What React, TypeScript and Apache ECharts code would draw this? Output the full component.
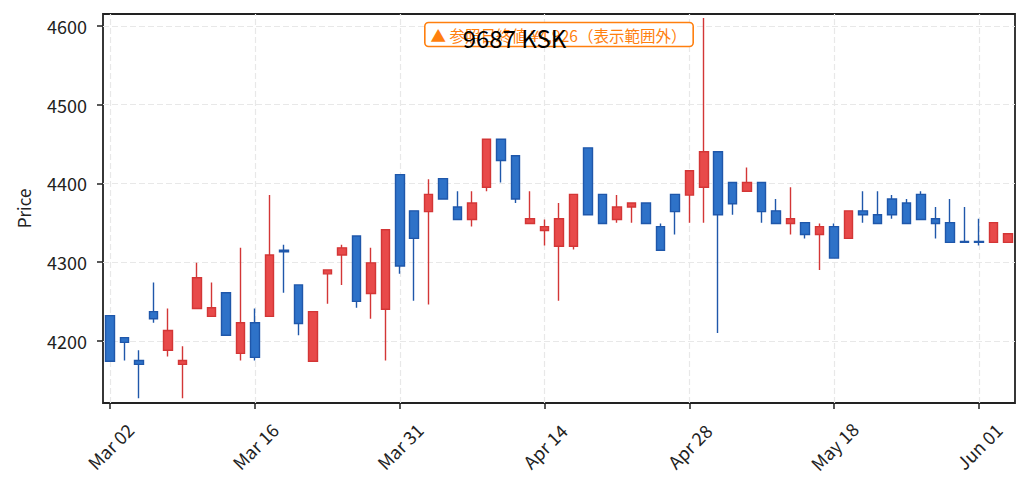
import React, { useEffect, useRef } from "react";
import * as echarts from "echarts";

const dates = [
  "Mar 02", "Mar 03", "Mar 04", "Mar 05", "Mar 06", "Mar 09", "Mar 10", "Mar 11", "Mar 12", "Mar 13",
  "Mar 16", "Mar 17", "Mar 18", "Mar 19", "Mar 23", "Mar 24", "Mar 25", "Mar 26", "Mar 27", "Mar 30",
  "Mar 31", "Apr 01", "Apr 02", "Apr 03", "Apr 06", "Apr 07", "Apr 08", "Apr 09", "Apr 10", "Apr 13",
  "Apr 14", "Apr 15", "Apr 16", "Apr 17", "Apr 20", "Apr 21", "Apr 22", "Apr 23", "Apr 24", "Apr 27",
  "Apr 28", "Apr 30", "May 01", "May 07", "May 08", "May 11", "May 12", "May 13", "May 14", "May 15",
  "May 18", "May 19", "May 20", "May 21", "May 22", "May 25", "May 26", "May 27", "May 28", "May 29",
  "Jun 01", "Jun 02", "Jun 03",
];

const opens = [
  4232, 4204, 4175, 4237, 4188, 4170, 4241, 4231, 4261, 4184,
  4223, 4231, 4315, 4271, 4174, 4285, 4309, 4333, 4260, 4240,
  4411, 4365, 4364, 4406, 4370, 4354, 4395, 4456, 4435, 4349,
  4340, 4320, 4320, 4445, 4386, 4354, 4370, 4375, 4345, 4386,
  4385, 4395, 4440, 4401, 4390, 4401, 4365, 4349, 4350, 4335,
  4345, 4330, 4365, 4360, 4380, 4375, 4386, 4355, 4350, 4326,
  4326, 4325, 4325,
];
const closes = [
  4174, 4198, 4170, 4228, 4213, 4175, 4280, 4242, 4207, 4223,
  4179, 4309, 4313, 4222, 4237, 4290, 4318, 4250, 4299, 4341,
  4295, 4330, 4386, 4380, 4354, 4375, 4456, 4429, 4380, 4355,
  4345, 4355, 4386, 4360, 4349, 4370, 4375, 4349, 4315, 4364,
  4416, 4440, 4360, 4374, 4401, 4364, 4349, 4355, 4335, 4345,
  4305, 4365, 4360, 4349, 4360, 4349, 4354, 4349, 4325, 4325,
  4325, 4350, 4336,
];
const lows = [
  4174, 4175, 4127, 4223, 4180, 4127, 4241, 4231, 4207, 4175,
  4175, 4231, 4261, 4207, 4174, 4247, 4271, 4242, 4228, 4175,
  4285, 4251, 4246, 4380, 4354, 4345, 4390, 4401, 4375, 4349,
  4321, 4251, 4316, 4360, 4349, 4350, 4350, 4349, 4315, 4335,
  4350, 4350, 4210, 4360, 4390, 4350, 4349, 4335, 4330, 4290,
  4305, 4330, 4350, 4349, 4355, 4349, 4354, 4330, 4325, 4325,
  4321, 4325, 4325,
];
const highs = [
  4232, 4204, 4188, 4274, 4241, 4193, 4299, 4274, 4261, 4318,
  4241, 4385, 4322, 4271, 4237, 4290, 4322, 4333, 4318, 4341,
  4411, 4365, 4405, 4406, 4390, 4390, 4456, 4456, 4435, 4390,
  4354, 4375, 4386, 4445, 4386, 4385, 4375, 4375, 4349, 4386,
  4416, 4610, 4440, 4401, 4420, 4401, 4380, 4395, 4350, 4349,
  4349, 4365, 4390, 4390, 4385, 4380, 4390, 4370, 4380, 4370,
  4355, 4350, 4336,
];

const yTicks = [4200, 4300, 4400, 4500, 4600];
const labelStep = 10;
const titleText = "9687 KSK";
const noteText = "▲ 参照日終値 ¥4,926（表示範囲外）";
const FONT = "Noto Sans CJK JP";

export default function App() {
  const ref = useRef<HTMLDivElement>(null);
  useEffect(() => {
    if (!ref.current) return;
    const chart = echarts.init(ref.current, null, { renderer: "svg" });
    const candleData = dates.map((_, i) => [opens[i], closes[i], lows[i], highs[i]]);
    const gridMarks = dates
      .map((d, i) => ({ d, i }))
      .filter((o) => o.i % labelStep === 0)
      .map((o) => ({ xAxis: o.d }));
    const left = 103;
    const right = 14;
    const top = 14;
    const bottom = 88;
    chart.setOption({
      animation: false,
      backgroundColor: "#ffffff",
      textStyle: { fontFamily: FONT },
      title: {
        text: titleText,
        left: "center",
        top: 20,
        z: 20,
        textStyle: { fontSize: 24, fontWeight: "normal", color: "#000", fontFamily: FONT },
      },
      graphic: [
        {
          type: "text",
          z: 5,
          x: left + (1029 - left - right) / 2,
          y: 34.5,
          style: {
            text: noteText,
            align: "center",
            verticalAlign: "middle",
            fill: "#ff7f0e",
            font: `15.5px "${FONT}"`,
            backgroundColor: "#ffffff",
            borderColor: "#ff7f0e",
            borderWidth: 1.6,
            borderRadius: 3,
            padding: [4, 6, 3, 5],
          },
        },
      ],
      grid: {
        left,
        right,
        top,
        bottom,
        show: true,
        borderColor: "#222",
        borderWidth: 1.8,
        backgroundColor: "transparent",
        containLabel: false,
      },
      xAxis: {
        type: "category",
        data: dates,
        boundaryGap: true,
        axisLine: { show: false },
        axisTick: {
          show: true,
          alignWithLabel: true,
          interval: labelStep - 1,
          length: 6,
          lineStyle: { color: "#222", width: 1.5 },
        },
        axisLabel: {
          interval: labelStep - 1,
          rotate: 45,
          align: "center",
          verticalAlign: "middle",
          margin: 43,
          fontSize: 18,
          color: "#222",
          fontFamily: FONT,
        },
        splitLine: { show: false },
      },
      yAxis: {
        type: "value",
        min: 4121,
        max: 4615,
        splitNumber: 5,
        name: "Price",
        nameLocation: "middle",
        nameGap: 71,
        nameTextStyle: { fontSize: 17, color: "#222", fontFamily: FONT },
        axisLine: { show: false },
        axisTick: {
          show: true,
          length: 6,
          customValues: yTicks,
          lineStyle: { color: "#222", width: 1.5 },
        },
        axisLabel: {
          customValues: yTicks,
          formatter: (v: number) => String(v),
          margin: 16,
          fontSize: 18,
          color: "#222",
          fontFamily: FONT,
        },
        splitLine: {
          show: true,
          lineStyle: { color: "#e8e8e8", width: 1.2, type: [6, 3] },
        },
      },
      series: [
        {
          type: "line",
          data: [],
          z: 1,
          silent: true,
          markLine: {
            silent: true,
            z: 0,
            symbol: ["none", "none"],
            label: { show: false },
            lineStyle: { color: "#e8e8e8", width: 1.2, type: [6, 3] },
            data: gridMarks,
          },
        },
        {
          type: "candlestick",
          z: 3,
          data: candleData,
          barWidth: 9,
          itemStyle: {
            color: "#e84a4a",
            color0: "#2e72c8",
            borderColor: "#d33636",
            borderColor0: "#1f57aa",
            borderWidth: 1.4,
          },
        },
      ],
    });
    return () => chart.dispose();
  }, []);
  return (
    <div
      ref={ref}
      style={{ position: "absolute", left: 0, top: 0, width: 1029, height: 491 }}
    />
  );
}
